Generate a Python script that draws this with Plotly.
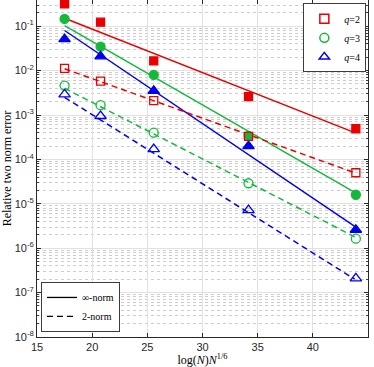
import plotly.graph_objects as go

x_vals = [17.5, 20.76, 25.58, 34.17, 43.9]
inf_q2 = [0.32, 0.123, 0.0165, 0.0026, 4.9e-4]
inf_q3 = [0.146, 0.0346, 0.0080, 3.4e-4, 1.6e-5]
inf_q4 = [0.051, 0.021, 0.0035, 2.0e-4, 2.6e-6]
two_q2 = [0.0112, 0.0058, 0.0021, 3.3e-4, 5.0e-5]
two_q3 = [0.0046, 0.00166, 4.0e-4, 2.9e-5, 1.64e-6]
two_q4 = [0.0029, 9.5e-4, 1.7e-4, 7.2e-6, 2.1e-7]

x_fit = [17.5, 43.8]
fit_inf_q2 = [0.151, 4.0e-4]
fit_inf_q3 = [0.103, 1.8e-5]
fit_inf_q4 = [0.080, 3.1e-6]
fit_two_q2 = [0.011, 5.0e-5]
fit_two_q3 = [0.004, 1.8e-6]
fit_two_q4 = [0.0025, 2.0e-7]

y_exps = [-8, -7, -6, -5, -4, -3, -2, -1]
y_ticks = [10.0 ** e for e in y_exps]
y_ticktext = ["10<sup>%d</sup>" % e for e in y_exps]
y_minor = [m * 10.0 ** e for e in range(-8, 0) for m in range(2, 10)]

RED = "rgb(235,0,0)"
GREEN = "rgb(20,185,60)"
BLUE = "rgb(0,0,240)"
SERIF = "Liberation Serif, DejaVu Serif, serif"
SANS = "Liberation Sans, Arial, sans-serif"
DASH = "6px,4px"

fig = go.Figure()

for yv, col, dash in [
    (fit_inf_q2, RED, "solid"), (fit_inf_q3, GREEN, "solid"), (fit_inf_q4, BLUE, "solid"),
    (fit_two_q2, RED, DASH), (fit_two_q3, GREEN, DASH), (fit_two_q4, BLUE, DASH),
]:
    fig.add_trace(go.Scatter(x=x_fit, y=yv, mode="lines",
                             line=dict(color=col, width=1.5, dash=dash),
                             showlegend=False, hoverinfo="skip"))

for yv, col, sym, size in [
    (inf_q2, RED, "square", 8), (inf_q3, GREEN, "circle", 9), (inf_q4, BLUE, "triangle-up", 10),
    (two_q2, RED, "square-open", 8), (two_q3, GREEN, "circle-open", 9), (two_q4, BLUE, "triangle-up-open", 10),
]:
    fig.add_trace(go.Scatter(x=x_vals, y=yv, mode="markers",
                             marker=dict(color=col, symbol=sym, size=size,
                                         line=dict(color=col, width=1.3)),
                             showlegend=False))

for name, col, sym in [("<i>q</i>=2", RED, "square-open"),
                       ("<i>q</i>=3", GREEN, "circle-open"),
                       ("<i>q</i>=4", BLUE, "triangle-up-open")]:
    fig.add_trace(go.Scatter(x=[None], y=[None], mode="markers", name=name,
                             marker=dict(color=col, symbol=sym, size=9,
                                         line=dict(color=col, width=1.5)),
                             legend="legend"))

for name, dash in [("∞-norm", "solid"), ("2-norm", DASH)]:
    fig.add_trace(go.Scatter(x=[None], y=[None], mode="lines", name=name,
                             line=dict(color="black", width=1.3, dash=dash),
                             legend="legend2"))

axis_common = dict(
    showline=True, linecolor="rgb(40,40,40)", linewidth=1, mirror="ticks",
    ticks="inside", ticklen=4, tickcolor="rgb(40,40,40)",
    showgrid=True, gridcolor="rgb(225,225,225)", gridwidth=1,
    zeroline=False, automargin=False,
    tickfont=dict(family=SANS, size=11, color="rgb(40,40,40)"),
)

fig.update_xaxes(
    range=[15, 45], dtick=5, tick0=15,
    title=dict(text="log(<i>N</i>)<i>N</i><sup>1/6</sup>",
               font=dict(family=SERIF, size=12, color="black"), standoff=0),
    **axis_common,
)
fig.update_yaxes(
    type="log", range=[-8, -0.41],
    tickmode="array", tickvals=y_ticks, ticktext=y_ticktext,
    title=dict(text="Relative two norm error",
               font=dict(family=SERIF, size=12, color="black"), standoff=2),
    minor=dict(tickmode="array", tickvals=y_minor, showgrid=True,
               gridcolor="rgb(205,205,205)", griddash="dot",
               ticks="inside", ticklen=2, tickcolor="rgb(60,60,60)"),
    **axis_common,
)

fig.update_layout(
    width=374, height=367,
    margin=dict(l=37, r=6, t=0, b=30),
    plot_bgcolor="white", paper_bgcolor="white",
    legend=dict(x=0.995, y=0.99, xanchor="right", yanchor="top",
                bgcolor="white", bordercolor="rgb(60,60,60)", borderwidth=1,
                font=dict(family=SERIF, size=10, color="black"),
                itemwidth=30, tracegroupgap=0),
    legend2=dict(x=0.012, y=0.015, xanchor="left", yanchor="bottom",
                 bgcolor="white", bordercolor="rgb(60,60,60)", borderwidth=1,
                 font=dict(family=SERIF, size=10, color="black"),
                 itemwidth=30, tracegroupgap=0),
)

fig.write_html("out.html", config={"displayModeBar": False},
               post_script="document.body.style.margin='0';document.body.style.padding='0';")
